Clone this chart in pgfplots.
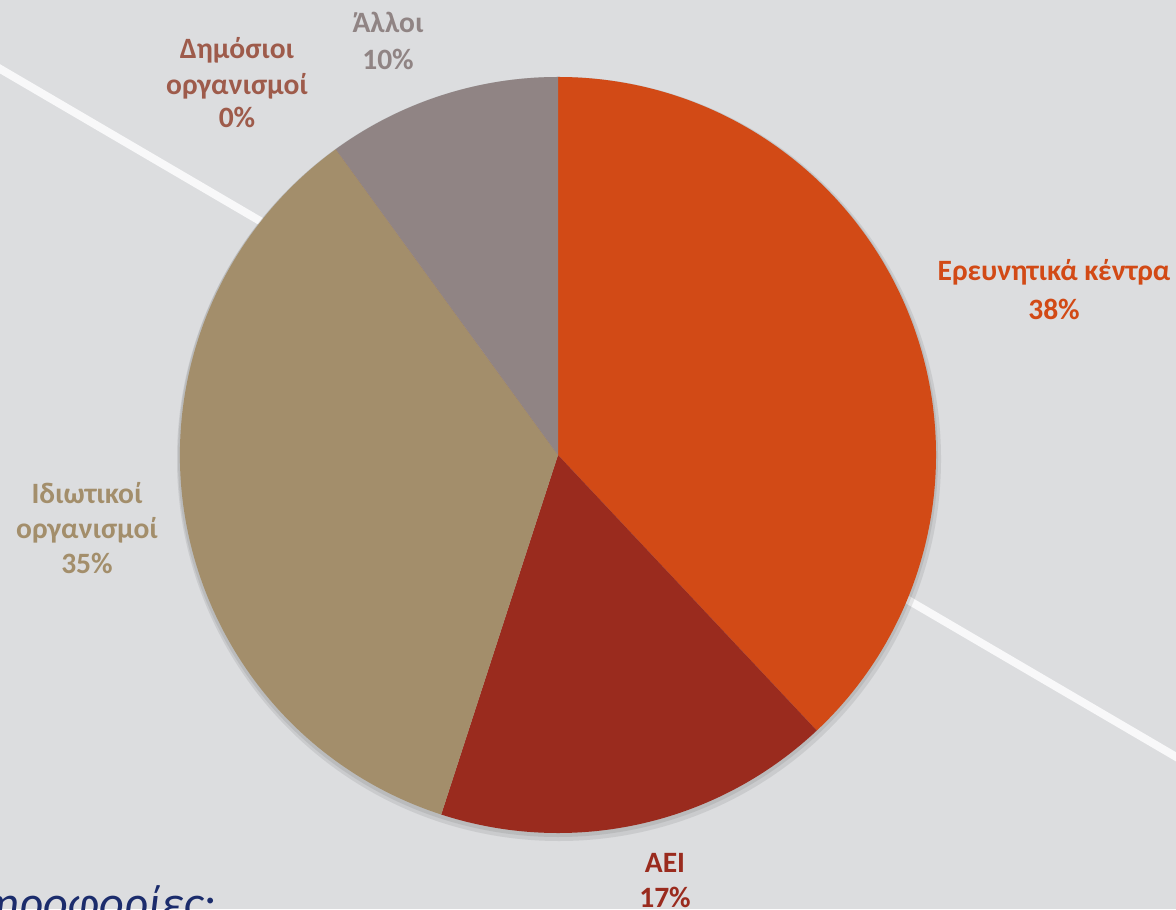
\documentclass[border=0pt]{standalone}
\usepackage{fontspec}
\setmainfont{Carlito}
\usepackage{pgfplots}
\pgfplotsset{compat=1.18}
\usepackage{pgfplotstable}

\definecolor{bg}{HTML}{DCDDDF}
\definecolor{cEre}{HTML}{D24A16}
\definecolor{cAei}{HTML}{9A2B1E}
\definecolor{cIdi}{HTML}{A38E6B}
\definecolor{cDim}{HTML}{9E5B4B}
\definecolor{cAll}{HTML}{908484}
\definecolor{navy}{HTML}{1B2C6C}

% share of each category (%), clockwise from 12 o'clock
\pgfplotstableread{
share colour
38 cEre
17 cAei
35 cIdi
0  cDim
10 cAll
}\piedata

\newcommand\lblfont{\fontsize{8.4}{10}\selectfont\bfseries}
\newcommand\lbl[4]{\node[anchor=base, text=#1, font=\lblfont, inner sep=0pt] at (axis cs:#2,#3) {#4};}

\begin{document}
\begin{tikzpicture}
\useasboundingbox (0,0) rectangle (11.76,9.09);
\clip (0,0) rectangle (11.76,9.09);
\fill[bg] (0,0) rectangle (11.76,9.09);
\begin{axis}[
    width=11.76cm, height=9.09cm, scale only axis,
    hide axis, clip=false,
    xmin=0, xmax=1176, ymin=0, ymax=909,
]
% white diagonal behind the pie
\draw[white!80!bg, line width=0.08cm] (axis cs:-10,846) -- (axis cs:1190,144);

% soft shadow
\fill[black, opacity=0.08] (axis cs:559,450) circle[radius=3.82cm];
\fill[black, opacity=0.08] (axis cs:558,452) circle[radius=3.80cm];

\pgfplotstablegetrowsof{\piedata}
\pgfmathtruncatemacro\nrows{\pgfplotsretval-1}
\def\cum{0}
\pgfplotsforeachungrouped \i in {0,...,\nrows}{
  \pgfplotstablegetelem{\i}{share}\of\piedata \let\sVal\pgfplotsretval
  \pgfplotstablegetelem{\i}{colour}\of\piedata \let\sCol\pgfplotsretval
  \pgfmathsetmacro\sA{90-3.6*\cum}
  \pgfmathsetmacro\sB{90-3.6*(\cum+\sVal)}
  \edef\temp{\noexpand\fill[\sCol] (axis cs:558,454) -- ++(\sA:3.78cm)
    arc[start angle=\sA, end angle=\sB, radius=3.78cm] -- cycle;}
  \temp
  \pgfmathsetmacro\cum{\cum+\sVal}
}

% labels
\lbl{cEre}{1054}{628}{Ερευνητικά κέντρα}
\lbl{cEre}{1054}{589}{38\%}
\lbl{cAei}{665}{37}{ΑΕΙ}
\lbl{cAei}{665}{2}{17\%}
\lbl{cIdi}{87}{406}{Ιδιωτικοί}
\lbl{cIdi}{87}{371}{οργανισμοί}
\lbl{cIdi}{87}{336}{35\%}
\lbl{cDim}{237}{850}{Δημόσιοι}
\lbl{cDim}{237}{814}{οργανισμοί}
\lbl{cDim}{237}{781}{0\%}
\lbl{cAll}{388}{876}{Άλλοι}
\lbl{cAll}{388}{839}{10\%}

\node[anchor=base east, text=navy, font=\fontsize{13.7}{16}\selectfont\itshape, inner sep=0pt]
  at (axis cs:217,-10) {Πληροφορίες:};
\end{axis}
\end{tikzpicture}
\end{document}
